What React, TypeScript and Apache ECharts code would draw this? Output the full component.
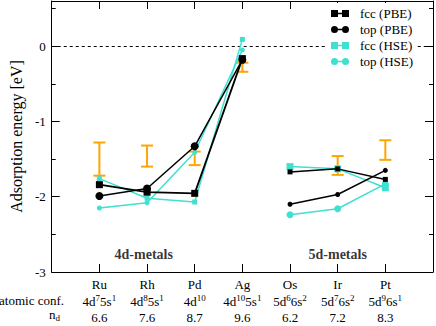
import React, { useEffect, useRef } from "react";
import * as echarts from "echarts";

const categories = ["Ru", "Rh", "Pd", "Ag", "Os", "Ir", "Pt"];
const atomicConf = [
  ["4d", "7", "5s", "1"],
  ["4d", "8", "5s", "1"],
  ["4d", "10"],
  ["4d", "10", "5s", "1"],
  ["5d", "6", "6s", "2"],
  ["5d", "7", "6s", "2"],
  ["5d", "9", "6s", "1"],
];
const nd = ["6.6", "7.6", "8.7", "9.6", "6.2", "7.2", "8.3"];

const fccPBE = [-1.84, -1.94, -1.955, -0.165, -1.67, -1.63, -1.77];
const topPBE = [-1.99, -1.89, -1.33, -0.18, -2.1, -1.97, -1.65];
const fccHSE = [-1.76, -2.02, -2.07, 0.09, -1.6, -1.63, -1.88];
const topHSE = [-2.15, -2.08, -1.41, -0.05, -2.24, -2.16, -1.83];

const expLow = [-1.72, -1.6, -1.58, -0.34, null, -1.71, -1.51];
const expHigh = [-1.28, -1.32, -1.4, -0.22, null, -1.46, -1.25];

const groupLabels = [
  { x: 1.93, y: -2.77, text: "4d-metals" },
  { x: 6.0, y: -2.77, text: "5d-metals" },
];

const yTicks = { min: -3, max: 0.6, interval: 1 };

const FONT = "Liberation Serif";
const CYAN = "#40E0D0";
const ORANGE = "#FFA500";

const SQ_ICON = "path://M0,0H7V2.75H11V0H18V7H11V4.25H7V7H0Z";
const CI_ICON =
  "path://M0,3.5A3.5,3.5,0,1,1,7,3.5A3.5,3.5,0,1,1,0,3.5ZM7,2.75H11V4.25H7ZM11,3.5A3.5,3.5,0,1,1,18,3.5A3.5,3.5,0,1,1,11,3.5Z";

function makeSeries(
  name: string,
  values: number[],
  symbol: string,
  color: string,
  size4d: number,
  size5d: number,
  width4d: number,
  width5d: number,
  z: number
) {
  const d4 = values.slice(0, 4).map((v, i) => [i + 1, v]);
  const d5 = values.slice(4).map((v, i) => [i + 5, v]);
  const base = {
    name,
    type: "line",
    symbol,
    itemStyle: { color },
    z,
  };
  return [
    { ...base, data: d4, symbolSize: size4d, lineStyle: { color, width: width4d } },
    { ...base, data: d5, symbolSize: size5d, lineStyle: { color, width: width5d } },
  ];
}

export default function App() {
  const ref = useRef<HTMLDivElement>(null);
  useEffect(() => {
    if (!ref.current) return;
    const chart = echarts.init(ref.current, undefined, { renderer: "svg" });

    const errData: number[][] = [];
    categories.forEach((_, i) => {
      const lo = expLow[i];
      const hi = expHigh[i];
      if (lo !== null && hi !== null) errData.push([i + 1, lo, hi]);
    });

    const labelRich: any = {
      e: { fontFamily: FONT, fontSize: 13, lineHeight: 18, color: "#000" },
      n: { fontFamily: FONT, fontSize: 13, lineHeight: 16, color: "#000" },
      s: { fontFamily: FONT, fontSize: 9, lineHeight: 7, verticalAlign: "top", color: "#000" },
    };

    const xLabel = (v: number) => {
      const i = Math.round(v) - 1;
      if (i < 0 || i >= categories.length) return "";
      const conf = atomicConf[i]
        .map((p, k) => (k % 2 === 0 ? `{n|${p}}` : `{s|${p}}`))
        .join("");
      return `{e|${categories[i]}}\n${conf}\n{n|${nd[i]}}`;
    };

    const series: any[] = [
      {
        name: "exp",
        type: "custom",
        data: errData,
        z: 1,
        renderItem: (params: any, api: any) => {
          const x = api.value(0);
          const pLo = api.coord([x, api.value(1)]);
          const pHi = api.coord([x, api.value(2)]);
          const w = 6;
          const style = { stroke: ORANGE, lineWidth: 2, fill: "none" };
          return {
            type: "group",
            children: [
              { type: "line", shape: { x1: pLo[0], y1: pLo[1], x2: pHi[0], y2: pHi[1] }, style },
              { type: "line", shape: { x1: pLo[0] - w, y1: pLo[1], x2: pLo[0] + w, y2: pLo[1] }, style },
              { type: "line", shape: { x1: pHi[0] - w, y1: pHi[1], x2: pHi[0] + w, y2: pHi[1] }, style },
            ],
          };
        },
        markLine: {
          silent: true,
          z: 1,
          symbol: ["none", "none"],
          label: { show: false },
          lineStyle: { color: "#000", width: 1, type: [3, 3] },
          data: [{ yAxis: 0 }],
        },
      },
      ...makeSeries("top (HSE)", topHSE, "circle", CYAN, 5, 7, 1.5, 1.5, 2),
      ...makeSeries("fcc (HSE)", fccHSE, "rect", CYAN, 5, 7, 1.5, 1.5, 3),
      ...makeSeries("top (PBE)", topPBE, "circle", "#000", 8, 5, 1.5, 1.5, 4),
      ...makeSeries("fcc (PBE)", fccPBE, "rect", "#000", 7, 5, 1.8, 1.5, 5),
      {
        name: "groups",
        type: "scatter",
        symbolSize: 0,
        data: groupLabels.map((g) => [g.x, g.y, g.text]),
        label: {
          show: true,
          position: "inside",
          formatter: (p: any) => p.data[2],
          fontFamily: FONT,
          fontSize: 14,
          fontWeight: "bold",
          color: "#000",
        },
        z: 6,
      },
    ];

    const axisLine = { show: true, onZero: false, lineStyle: { color: "#000", width: 1 } };

    chart.setOption({
      animation: false,
      grid: { left: 43, right: 3, top: 1, bottom: 54, containLabel: false },
      legend: {
        orient: "vertical",
        left: 326,
        top: 3,
        z: 20,
        padding: [4, 3, 4, 5],
        backgroundColor: "#fff",
        itemWidth: 18,
        itemHeight: 7,
        itemGap: 3,
        symbolKeepAspect: true,
        textStyle: { fontFamily: FONT, fontSize: 13, color: "#000", padding: [0, 0, 0, 6] },
        data: [
          { name: "fcc (PBE)", icon: SQ_ICON },
          { name: "top (PBE)", icon: CI_ICON },
          { name: "fcc (HSE)", icon: SQ_ICON },
          { name: "top (HSE)", icon: CI_ICON },
        ],
        selectedMode: false,
      },
      xAxis: [
        {
          type: "value",
          min: 0,
          max: 8,
          interval: 1,
          position: "bottom",
          axisLine,
          splitLine: { show: false },
          axisTick: { show: true, inside: true, length: 8, lineStyle: { color: "#000" } },
          axisLabel: {
            show: true,
            margin: 3,
            formatter: xLabel,
            rich: labelRich,
            fontFamily: FONT,
            showMinLabel: false,
            showMaxLabel: false,
          },
        },
        {
          type: "value",
          min: 0,
          max: 8,
          interval: 1,
          position: "top",
          axisLine,
          splitLine: { show: false },
          axisTick: { show: true, inside: true, length: 8, lineStyle: { color: "#000" } },
          axisLabel: { show: false },
        },
      ],
      yAxis: [
        {
          type: "value",
          min: yTicks.min,
          max: yTicks.max,
          interval: yTicks.interval,
          position: "left",
          axisLine,
          splitLine: { show: false },
          name: "Adsorption energy [eV]",
          nameLocation: "middle",
          nameGap: 24,
          nameTextStyle: { fontFamily: FONT, fontSize: 16, color: "#000" },
          axisTick: { show: true, inside: true, length: 8, lineStyle: { color: "#000" } },
          minorTick: { show: true, splitNumber: 2, length: 4, lineStyle: { color: "#000" } },
          axisLabel: {
            show: true,
            margin: 6,
            fontFamily: FONT,
            fontSize: 13,
            color: "#000",
            showMaxLabel: false,
            formatter: (v: number) => (Math.abs(v - Math.round(v)) < 1e-6 ? String(Math.round(v)) : ""),
          },
        },
        {
          type: "value",
          min: yTicks.min,
          max: yTicks.max,
          interval: yTicks.interval,
          position: "right",
          axisLine,
          splitLine: { show: false },
          axisTick: { show: true, inside: true, length: 8, lineStyle: { color: "#000" } },
          minorTick: { show: true, splitNumber: 2, length: 4, lineStyle: { color: "#000" } },
          axisLabel: { show: false },
        },
      ],
      graphic: [
        {
          type: "text",
          right: 436 - 64,
          top: 294,
          style: { text: "atomic conf.", fontFamily: FONT, fontSize: 13, fill: "#000" },
        },
        {
          type: "text",
          left: 49,
          top: 308,
          style: {
            text: "{a|n}{b|d}",
            rich: {
              a: { fontFamily: FONT, fontSize: 13, lineHeight: 16, fill: "#000" },
              b: { fontFamily: FONT, fontSize: 9, lineHeight: 8, verticalAlign: "bottom", fill: "#000" },
            },
          },
        },
      ],
      series,
    });

    return () => chart.dispose();
  }, []);

  return (
    <div
      ref={ref}
      style={{ position: "absolute", left: 0, top: 0, width: 436, height: 326 }}
    />
  );
}
